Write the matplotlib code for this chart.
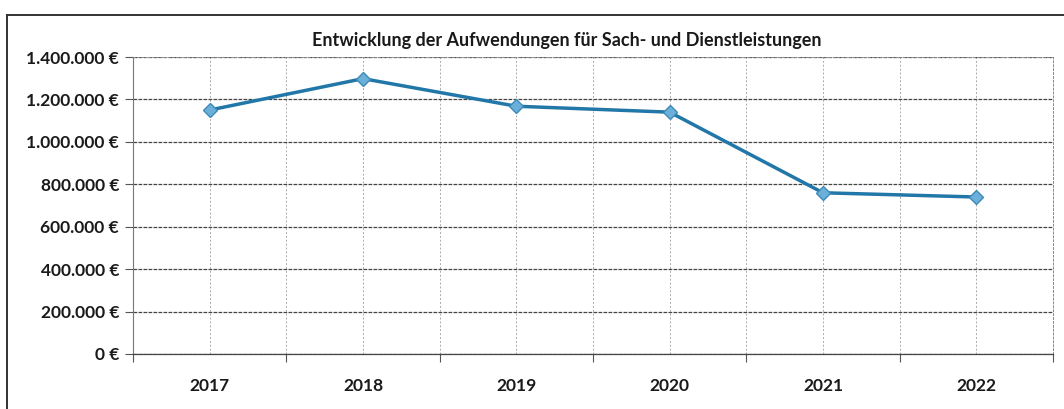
import matplotlib.pyplot as plt
from matplotlib.lines import Line2D
from matplotlib.ticker import FuncFormatter, FixedLocator

# Aufwendungen für Sach- und Dienstleistungen je Jahr (in Euro)
years = ['2017', '2018', '2019', '2020', '2021', '2022']
costs = [1150000, 1298000, 1168000, 1140000, 760000, 740000]

y_ticks = [0, 200000, 400000, 600000, 800000, 1000000, 1200000, 1400000]


def euro(v, pos=None):
    return f'{v:,.0f} €'.replace(',', '.')


plt.rcParams['font.family'] = ['Lato', 'DejaVu Sans']

fig = plt.figure(figsize=(10.64, 4.09), dpi=100)
ax = fig.add_axes([0.125, 0.1345, 0.8647, 0.7261])

x = list(range(len(years)))
ax.plot(x, costs, color='#2178a8', linewidth=2.5, marker='D', markersize=7,
        markerfacecolor='#6bb0d8', markeredgecolor='#3d8ab8', markeredgewidth=1.0,
        zorder=3)

ax.set_xlim(-0.5, len(years) - 0.5)
ax.set_ylim(0, 1400000)
ax.set_yticks(y_ticks)
ax.yaxis.set_major_formatter(FuncFormatter(euro))

# Kategoriengrenzen als Hauptticks, Jahresmitte als Nebenticks mit Beschriftung
ax.xaxis.set_major_locator(FixedLocator([i - 0.5 for i in range(len(years) + 1)]))
ax.xaxis.set_minor_locator(FixedLocator(x))
ax.set_xticklabels([])
ax.set_xticklabels(years, minor=True)
ax.tick_params(axis='x', which='major', length=6, color='#555555', direction='out')
ax.tick_params(axis='x', which='minor', length=0, pad=17, labelsize=12.5)
ax.tick_params(axis='y', length=6, color='#555555', labelsize=12.5, pad=4)
for lab in ax.get_yticklabels() + ax.get_xticklabels(minor=True):
    lab.set_fontweight('bold')
    lab.set_color('#1a1a1a')

ax.grid(axis='y', color='#444444', linewidth=0.9, linestyle=(0, (3, 1)))
ax.grid(axis='x', which='both', color='#aaaaaa', linewidth=0.7, linestyle=(0, (2, 2)))
ax.set_axisbelow(True)

for side in ['top', 'right']:
    ax.spines[side].set_color('#888888')
    ax.spines[side].set_linestyle((0, (2, 2)))
    ax.spines[side].set_linewidth(0.7)
ax.spines['left'].set_color('#777777')
ax.spines['left'].set_linewidth(0.8)
ax.spines['bottom'].set_color('#444444')
ax.spines['bottom'].set_linewidth(0.9)

fig.text(0.533, 0.902, 'Entwicklung der Aufwendungen für Sach- und Dienstleistungen',
         ha='center', va='center', fontsize=13, fontweight='bold', color='#1a1a1a')

# Rahmen des Diagrammbereichs
fig.add_artist(Line2D([0.0066, 1.0], [0.963, 0.963], color='#333333', linewidth=1.4))
fig.add_artist(Line2D([0.0066, 0.0066], [0.0, 0.963], color='#333333', linewidth=1.4))

fig.savefig('out.png', dpi=100, facecolor='white')
